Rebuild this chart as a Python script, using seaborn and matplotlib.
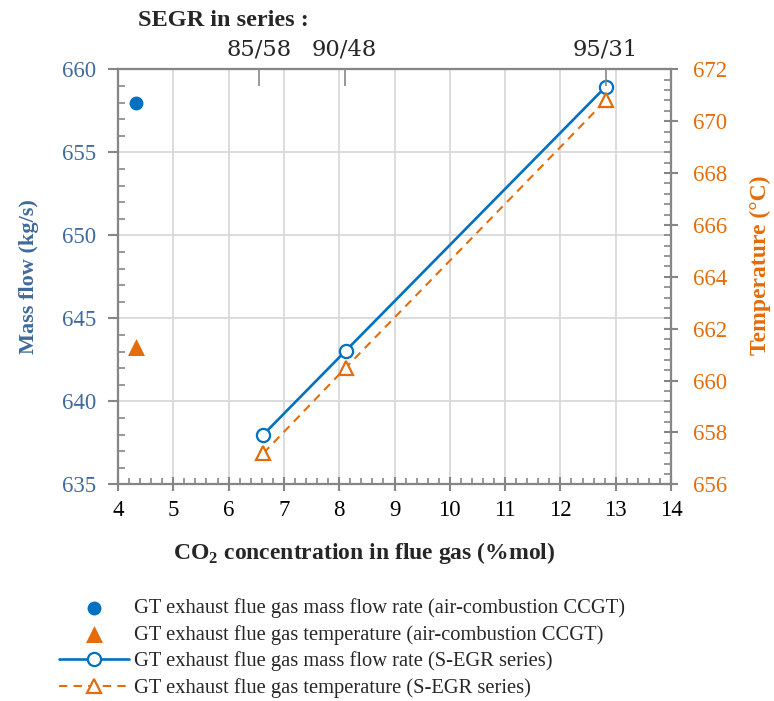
import numpy as np
import pandas as pd
import matplotlib
matplotlib.use("Agg")
import matplotlib.pyplot as plt
import seaborn as sns
from matplotlib.ticker import MultipleLocator

sns.set_theme(style="white")
plt.rcParams["font.family"] = ["Liberation Serif", "DejaVu Serif"]
plt.rcParams["mathtext.fontset"] = "custom"
plt.rcParams["mathtext.rm"] = "Liberation Serif"
plt.rcParams["mathtext.bf"] = "Liberation Serif:bold"

# air-combustion CCGT reference point
co2_air = [4.32]
mass_air = [657.95]
temp_air = [661.3]

# S-EGR series
co2_segr = [6.63, 8.12, 12.82]
mass_segr = [638.0, 643.05, 658.95]
temp_segr = [657.2, 660.5, 670.8]

# top axis: SEGR ratios
segr_pos = [6.55, 8.10, 12.82]
segr_labels = ["85/58", "90/48", "95/31"]

blue = "#0070C0"
orange = "#E46C0A"
lab_blue = "#3F6A9C"
spine_c = "#868686"
grid_c = "#D9D9D9"

fig = plt.figure(figsize=(7.74, 7.01), dpi=100)
ax = fig.add_axes([118 / 774, 1 - 484.3 / 701, 553 / 774, 415 / 701])
ax2 = ax.twinx()
ax3 = ax.twiny()

df_air = pd.DataFrame({"co2": co2_air, "mass": mass_air, "temp": temp_air})
df_segr = pd.DataFrame({"co2": co2_segr, "mass": mass_segr, "temp": temp_segr})

sns.scatterplot(data=df_air, x="co2", y="mass", ax=ax, color=blue, marker="o",
                s=100, linewidth=0, zorder=5,
                label="GT exhaust flue gas mass flow rate (air-combustion CCGT)")
sns.scatterplot(data=df_air, x="co2", y="temp", ax=ax2, color=orange, marker="^",
                s=150, linewidth=0, zorder=5,
                label="GT exhaust flue gas temperature (air-combustion CCGT)")
sns.lineplot(data=df_segr, x="co2", y="mass", ax=ax, color=blue, lw=1.9,
             marker="o", markersize=9.5, markerfacecolor="white",
             markeredgecolor=blue, markeredgewidth=1.6, zorder=4,
             label="GT exhaust flue gas mass flow rate (S-EGR series)")
sns.lineplot(data=df_segr, x="co2", y="temp", ax=ax2, color=orange, lw=1.5,
             linestyle=(0, (4, 3)), marker="^", markersize=10,
             markerfacecolor="white", markeredgecolor=orange,
             markeredgewidth=1.6, zorder=4,
             label="GT exhaust flue gas temperature (S-EGR series)")

ax.set_xlim(4, 14)
ax.set_ylim(635, 660)
ax2.set_ylim(656, 672)
ax3.set_xlim(4, 14)

ax.xaxis.set_major_locator(MultipleLocator(1))
ax.xaxis.set_minor_locator(MultipleLocator(0.2))
ax.yaxis.set_major_locator(MultipleLocator(5))
ax.yaxis.set_minor_locator(MultipleLocator(1))
ax2.yaxis.set_major_locator(MultipleLocator(2))
ax2.yaxis.set_minor_locator(MultipleLocator(0.4))

ax.grid(True, which="major", color=grid_c, lw=1.3)
ax.set_axisbelow(True)

for a in (ax, ax2, ax3):
    for sp in a.spines.values():
        sp.set_color(spine_c)
        sp.set_linewidth(1.5)

ax.tick_params(axis="x", which="major", direction="inout", length=10, width=1.5,
               color=spine_c, labelsize=16.5, labelcolor="black", pad=6)
ax.tick_params(axis="x", which="minor", direction="in", length=4, width=1.2,
               color=spine_c, bottom=True)
ax.tick_params(axis="y", which="major", direction="out", length=7, width=1.5,
               color=spine_c, labelsize=16.5, labelcolor=lab_blue, pad=8.5)
ax.tick_params(axis="y", which="minor", direction="in", length=5, width=1.2,
               color=spine_c, left=True)
ax2.tick_params(axis="y", which="major", direction="inout", length=10, width=1.5,
                color=spine_c, labelsize=16.5, labelcolor=orange, pad=11)
ax2.tick_params(axis="y", which="minor", direction="in", length=5, width=1.2,
                color=spine_c, right=True)

ax3.set_xticks(segr_pos)
ax3.set_xticklabels(segr_labels, family=["DejaVu Serif"])
ax3.tick_params(axis="x", direction="in", length=12, width=1.2, color=spine_c,
                labelsize=16.3, pad=6)
ax3.set_xlabel("")

ax.set_xlabel(r"CO$_{\mathbf{2}}$ concentration in flue gas (%mol)",
              fontsize=17, fontweight="bold")
ax.xaxis.set_label_coords(0.445, -0.135)
ax.set_ylabel("Mass flow (kg/s)", fontsize=16, fontweight="bold",
              color=lab_blue, labelpad=16.5)
ax2.set_ylabel("Temperature (\u00b0C)", fontsize=17, fontweight="bold",
               color=orange)
ax2.yaxis.set_label_coords(1.143, 0.528)

fig.text(138 / 774, 1 - 20 / 701, "SEGR in series :", fontsize=17.5,
         fontweight="bold", ha="left", va="center")

h1, l1 = ax.get_legend_handles_labels()
h2, l2 = ax2.get_legend_handles_labels()
for a in (ax, ax2):
    if a.get_legend() is not None:
        a.get_legend().remove()
handles = [h1[0], h2[0], h1[1], h2[1]]
labels = [l1[0], l2[0], l1[1], l2[1]]
fig.legend(handles, labels, loc="upper left",
           bbox_to_anchor=(59 / 774, 1 - 598 / 701), frameon=False,
           fontsize=14.8, handlelength=3.4, handletextpad=0.25,
           labelspacing=0.33, borderpad=0, borderaxespad=0)

fig.savefig("out.png", dpi=100)
